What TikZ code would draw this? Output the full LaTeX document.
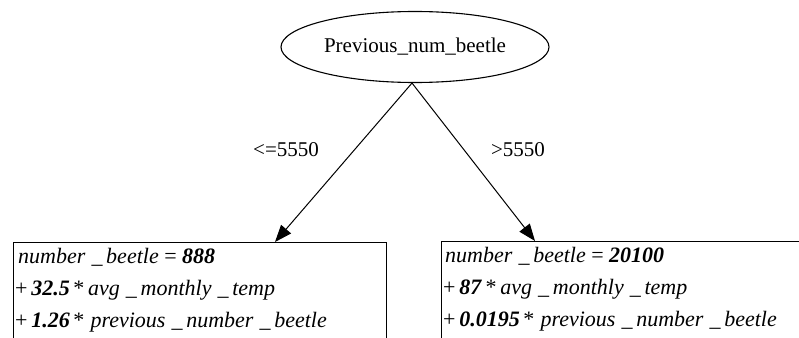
\documentclass[tikz,border=0pt]{standalone}
\usepackage{fontspec}
\setmainfont{Liberation Serif}
\usetikzlibrary{arrows.meta,shapes.geometric}
\newcommand{\vr}[1]{\textit{#1}}
\newcommand{\cf}[1]{\textbf{\textit{#1}}}
\begin{document}
\begin{tikzpicture}[x=1pt,y=-1pt,
  split/.style={draw,ellipse,line width=1.1pt,minimum width=268pt,minimum height=71pt,
    inner sep=0pt,font=\fontsize{21}{25}\selectfont},
  leaf/.style={draw,rectangle,line width=1.1pt,inner sep=0pt,anchor=north west},
  eqline/.style={anchor=base west,inner sep=0pt,font=\fontsize{22}{32}\selectfont},
  cond/.style={font=\fontsize{21}{25}\selectfont,inner sep=1pt},
  branch/.style={line width=1pt,-{Triangle[length=17pt,width=13pt]}}]
  \clip (0,0) rectangle (799,337);
  \fill[white] (0,0) rectangle (799,337);

  % splitting attribute
  \node[split] (root) at (415,47) {Previous\_num\_beetle};

  % leaf models
  \node[leaf,minimum width=373pt,minimum height=130pt] (L) at (13,242) {};
  \node[leaf,minimum width=400pt,minimum height=130pt] (R) at (441,241) {};

  \node[eqline] (l1) at (18,263) {\vr{number}\;\vr{\_\,beetle} = \cf{888}};
  \node[eqline] (l2) at (15,295) {+\,\cf{32.5}\,*\,\vr{avg}\;\vr{\_\,monthly}\;\vr{\_\,temp}};
  \node[eqline] (l3) at (15,327) {+\,\cf{1.26}\,*\;\vr{previous}\;\vr{\_\,number}\;\vr{\_\,beetle}};

  \node[eqline] (r1) at (445,262) {\vr{number}\;\vr{\_\,beetle} = \cf{20100}};
  \node[eqline] (r2) at (443,294) {+\,\cf{87}\,*\,\vr{avg}\;\vr{\_\,monthly}\;\vr{\_\,temp}};
  \node[eqline] (r3) at (443,326) {+\,\cf{0.0195}\,*\;\vr{previous}\;\vr{\_\,number}\;\vr{\_\,beetle}};

  % branches
  \draw[branch] ([xshift=-3pt]root.south) -- ([xshift=262pt]L.north west);
  \draw[branch] ([xshift=-3pt]root.south) -- ([xshift=94pt]R.north west);

  \node[cond] (cl) at (286,150) {<=5550};
  \node[cond] (cr) at (518,150) {>5550};
\end{tikzpicture}
\end{document}
